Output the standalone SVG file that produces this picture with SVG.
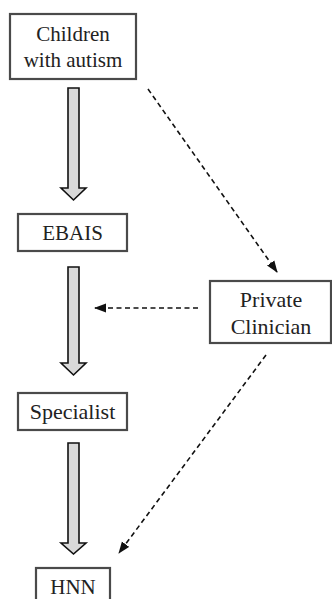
<svg xmlns="http://www.w3.org/2000/svg" width="332" height="599" viewBox="0 0 332 599">
<style>
.box{fill:#fff;stroke:#4a4a4a;stroke-width:2.2}
.t{font-family:"Liberation Serif","Times New Roman",serif;font-size:21px;fill:#222;text-anchor:middle}
.l{font-size:22px}
.blk{fill:#d9d9d9;stroke:#111;stroke-width:1.6;stroke-linejoin:miter}
.dash{fill:none;stroke:#111;stroke-width:1.6;stroke-dasharray:5 3.5}
</style>
<defs>
<marker id="ah" viewBox="0 0 12 10" refX="11" refY="5" markerWidth="12" markerHeight="10" markerUnits="userSpaceOnUse" orient="auto">
<path d="M0,0.5 L12,5 L0,9.5 Z" fill="#111"/>
</marker>
</defs>
<rect width="332" height="599" fill="#fff"/>
<g id="connectors">
<polygon class="blk" points="68,88 79,88 79,188 86,188 73.5,200 61,188 68,188"/>
<polygon class="blk" points="68,267 79,267 79,363 86,363 73.5,375 61,363 68,363"/>
<polygon class="blk" points="68,443 79,443 79,543 86,543 73.5,554 61,543 68,543"/>
<line class="dash" x1="148" y1="89" x2="277" y2="272" marker-end="url(#ah)"/>
<line class="dash" x1="198" y1="308" x2="95" y2="308" marker-end="url(#ah)"/>
<line class="dash" x1="266" y1="355" x2="119" y2="553" marker-end="url(#ah)"/>
</g>
<g id="children">
<rect class="box" x="10" y="14" width="126" height="65"/>
<text class="t" x="73" y="41">Children</text>
<text class="t" x="73" y="67">with autism</text>
</g>
<g id="ebais">
<rect class="box" x="18" y="214" width="109" height="37"/>
<text class="t" x="72.5" y="240">EBAIS</text>
</g>
<g id="private">
<rect class="box" x="210" y="281" width="121" height="62"/>
<text class="t l" x="271" y="307">Private</text>
<text class="t l" x="271" y="334">Clinician</text>
</g>
<g id="specialist">
<rect class="box" x="18" y="393" width="109" height="37"/>
<text class="t l" x="72.5" y="419">Specialist</text>
</g>
<g id="hnn">
<rect class="box" x="36" y="568" width="74" height="40"/>
<text class="t" x="73" y="594">HNN</text>
</g>
</svg>
